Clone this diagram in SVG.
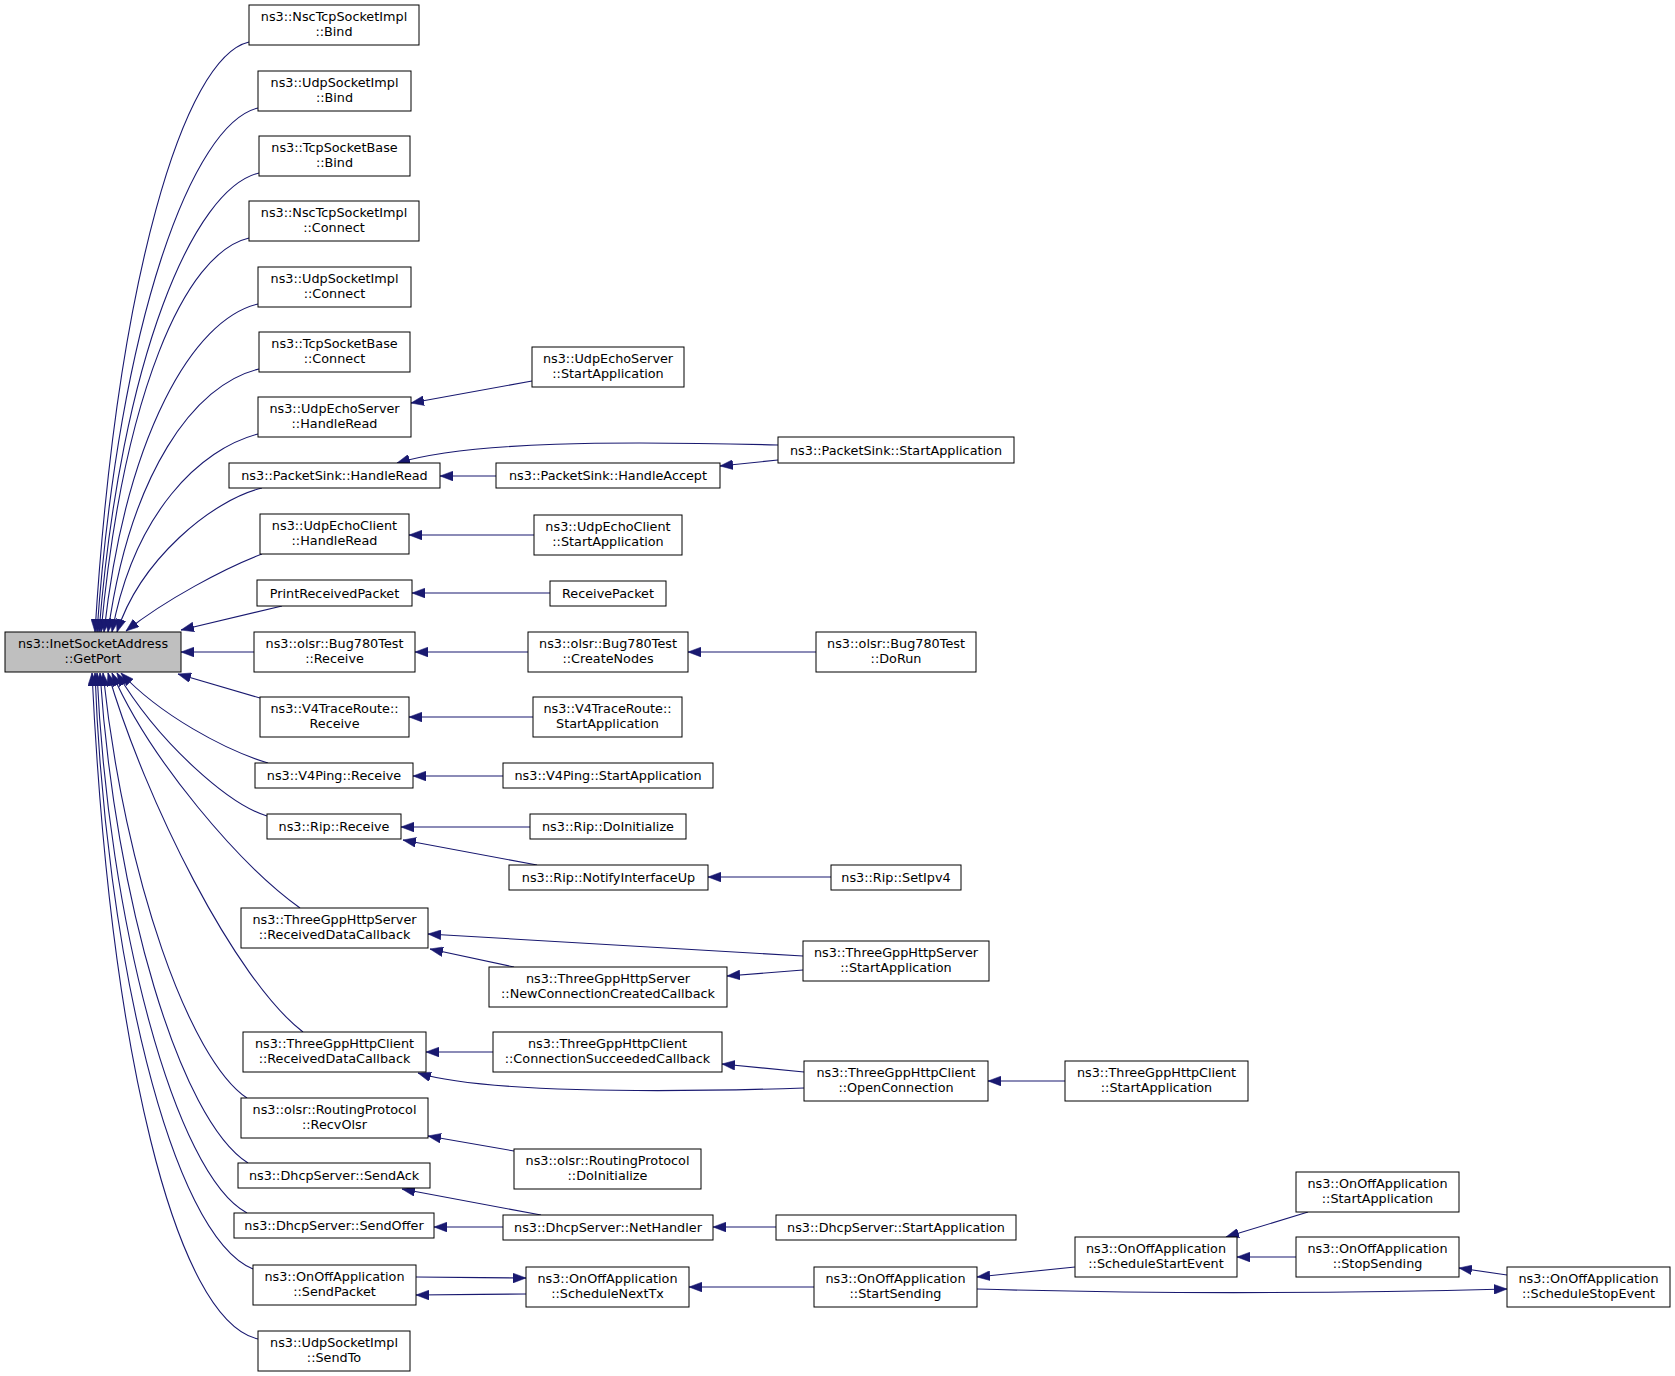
<svg xmlns="http://www.w3.org/2000/svg" width="1675" height="1376" viewBox="0 0 1675 1376">
<style>
.n rect{fill:#fff;stroke:#000;stroke-width:1}
.root rect{fill:#bfbfbf;stroke:#000;stroke-width:1}
text{font-family:"DejaVu Sans","Liberation Sans",sans-serif;font-size:12.8px;text-anchor:middle;fill:#000}
#edges path{fill:none;stroke:#191970;stroke-width:1.1;marker-end:url(#ah)}
</style>
<defs>
<marker id="ah" markerUnits="userSpaceOnUse" markerWidth="13" markerHeight="10" viewBox="0 0 12 9" refX="12" refY="4.5" orient="auto">
<path d="M0,0 L12,4.5 L0,9 z" fill="#191970" stroke="#191970" stroke-width="0.5"/>
</marker>
</defs>
<rect width="1675" height="1376" fill="#fff"/>
<g id="edges">
<path d="M249,42 C184,57 117,278 95,632"/>
<path d="M258,108 C193,123 119,319 97,632"/>
<path d="M259,173 C194,188 121,357 99,632"/>
<path d="M249,238 C184,253 123,396 101,632"/>
<path d="M258,304 C193,319 126,435 104,632"/>
<path d="M259,369 C194,384 130,474 108,632"/>
<path d="M258,434 C200,449 134,513 112,632"/>
<path d="M262,488 C212,500 140,560 117,632"/>
<path d="M262,554 C225,568 165,600 126,631"/>
<path d="M282,606 L181,630"/>
<path d="M254,652 L181,652"/>
<path d="M260,698 L178,674"/>
<path d="M268,763 C225,750 160,715 121,673"/>
<path d="M267,816 C230,805 160,745 117,673"/>
<path d="M300,908 C240,865 150,760 112,673"/>
<path d="M303,1032 C235,980 145,800 108,673"/>
<path d="M247,1098 C190,1060 125,880 103,673"/>
<path d="M248,1163 C180,1120 115,900 100,673"/>
<path d="M247,1213 C175,1175 108,920 97,673"/>
<path d="M253,1269 C170,1235 105,950 95,673"/>
<path d="M258,1339 C175,1320 110,1050 92,673"/>
<path d="M532,381 L411,403"/>
<path d="M496,476 L440,476"/>
<path d="M778,445 C620,441 470,441 397,463"/>
<path d="M778,460 L720,466"/>
<path d="M534,535 L409,535"/>
<path d="M550,593 L412,593"/>
<path d="M528,652 L415,652"/>
<path d="M816,652 L688,652"/>
<path d="M533,717 L409,717"/>
<path d="M503,776 L413,776"/>
<path d="M530,827 L401,827"/>
<path d="M537,865 L403,840"/>
<path d="M831,877 L708,877"/>
<path d="M803,956 L428,934"/>
<path d="M514,967 L430,949"/>
<path d="M803,970 L727,976"/>
<path d="M493,1052 L426,1052"/>
<path d="M804,1072 L722,1064"/>
<path d="M804,1088 C650,1093 480,1092 418,1073"/>
<path d="M1065,1081 L988,1081"/>
<path d="M514,1151 L428,1136"/>
<path d="M541,1215 L402,1189"/>
<path d="M503,1227 L434,1227"/>
<path d="M776,1227 L713,1227"/>
<path d="M416,1277 C450,1277 490,1278 526,1278"/>
<path d="M526,1294 C490,1294 450,1295 416,1295"/>
<path d="M814,1287 L689,1287"/>
<path d="M1075,1267 L977,1277"/>
<path d="M977,1289 C1150,1294 1350,1293 1507,1289"/>
<path d="M1308,1212 L1226,1237"/>
<path d="M1296,1257 L1237,1257"/>
<path d="M1507,1275 L1459,1268"/>
</g>
<g id="getport" class="root"><rect x="5" y="632" width="176" height="40"/><text x="93" y="648">ns3::InetSocketAddress</text><text x="93" y="663">::GetPort</text></g>
<g id="n1" class="n"><rect x="249" y="5" width="170" height="40"/><text x="334" y="21">ns3::NscTcpSocketImpl</text><text x="334" y="36">::Bind</text></g>
<g id="n2" class="n"><rect x="258" y="71" width="153" height="40"/><text x="334.5" y="87">ns3::UdpSocketImpl</text><text x="334.5" y="102">::Bind</text></g>
<g id="n3" class="n"><rect x="259" y="136" width="151" height="40"/><text x="334.5" y="152">ns3::TcpSocketBase</text><text x="334.5" y="167">::Bind</text></g>
<g id="n4" class="n"><rect x="249" y="201" width="170" height="40"/><text x="334" y="217">ns3::NscTcpSocketImpl</text><text x="334" y="232">::Connect</text></g>
<g id="n5" class="n"><rect x="258" y="267" width="153" height="40"/><text x="334.5" y="283">ns3::UdpSocketImpl</text><text x="334.5" y="298">::Connect</text></g>
<g id="n6" class="n"><rect x="259" y="332" width="151" height="40"/><text x="334.5" y="348">ns3::TcpSocketBase</text><text x="334.5" y="363">::Connect</text></g>
<g id="n7" class="n"><rect x="258" y="397" width="153" height="40"/><text x="334.5" y="413">ns3::UdpEchoServer</text><text x="334.5" y="428">::HandleRead</text></g>
<g id="n8" class="n"><rect x="229" y="463" width="211" height="25"/><text x="334.5" y="480">ns3::PacketSink::HandleRead</text></g>
<g id="n9" class="n"><rect x="260" y="514" width="149" height="40"/><text x="334.5" y="530">ns3::UdpEchoClient</text><text x="334.5" y="545">::HandleRead</text></g>
<g id="n10" class="n"><rect x="257" y="580" width="155" height="26"/><text x="334.5" y="597.5">PrintReceivedPacket</text></g>
<g id="n11" class="n"><rect x="254" y="632" width="161" height="40"/><text x="334.5" y="648">ns3::olsr::Bug780Test</text><text x="334.5" y="663">::Receive</text></g>
<g id="n12" class="n"><rect x="260" y="697" width="149" height="40"/><text x="334.5" y="713">ns3::V4TraceRoute::</text><text x="334.5" y="728">Receive</text></g>
<g id="n13" class="n"><rect x="255" y="763" width="158" height="25"/><text x="334" y="780">ns3::V4Ping::Receive</text></g>
<g id="n14" class="n"><rect x="267" y="814" width="134" height="25"/><text x="334" y="831">ns3::Rip::Receive</text></g>
<g id="n15" class="n"><rect x="241" y="908" width="187" height="40"/><text x="334.5" y="924">ns3::ThreeGppHttpServer</text><text x="334.5" y="939">::ReceivedDataCallback</text></g>
<g id="n16" class="n"><rect x="243" y="1032" width="183" height="40"/><text x="334.5" y="1048">ns3::ThreeGppHttpClient</text><text x="334.5" y="1063">::ReceivedDataCallback</text></g>
<g id="n17" class="n"><rect x="241" y="1098" width="187" height="40"/><text x="334.5" y="1114">ns3::olsr::RoutingProtocol</text><text x="334.5" y="1129">::RecvOlsr</text></g>
<g id="n18" class="n"><rect x="238" y="1163" width="192" height="25"/><text x="334" y="1180">ns3::DhcpServer::SendAck</text></g>
<g id="n19" class="n"><rect x="234" y="1213" width="200" height="25"/><text x="334" y="1230">ns3::DhcpServer::SendOffer</text></g>
<g id="n20" class="n"><rect x="253" y="1265" width="163" height="40"/><text x="334.5" y="1281">ns3::OnOffApplication</text><text x="334.5" y="1296">::SendPacket</text></g>
<g id="n21" class="n"><rect x="258" y="1331" width="152" height="40"/><text x="334" y="1347">ns3::UdpSocketImpl</text><text x="334" y="1362">::SendTo</text></g>
<g id="m1" class="n"><rect x="532" y="347" width="152" height="40"/><text x="608" y="363">ns3::UdpEchoServer</text><text x="608" y="378">::StartApplication</text></g>
<g id="m2" class="n"><rect x="496" y="463" width="224" height="25"/><text x="608" y="480">ns3::PacketSink::HandleAccept</text></g>
<g id="m3" class="n"><rect x="778" y="437" width="236" height="26"/><text x="896" y="454.5">ns3::PacketSink::StartApplication</text></g>
<g id="m4" class="n"><rect x="534" y="515" width="148" height="40"/><text x="608" y="531">ns3::UdpEchoClient</text><text x="608" y="546">::StartApplication</text></g>
<g id="m5" class="n"><rect x="550" y="581" width="116" height="25"/><text x="608" y="598">ReceivePacket</text></g>
<g id="m6" class="n"><rect x="528" y="632" width="160" height="40"/><text x="608" y="648">ns3::olsr::Bug780Test</text><text x="608" y="663">::CreateNodes</text></g>
<g id="m7" class="n"><rect x="816" y="632" width="160" height="40"/><text x="896" y="648">ns3::olsr::Bug780Test</text><text x="896" y="663">::DoRun</text></g>
<g id="m8" class="n"><rect x="533" y="697" width="149" height="40"/><text x="607.5" y="713">ns3::V4TraceRoute::</text><text x="607.5" y="728">StartApplication</text></g>
<g id="m9" class="n"><rect x="503" y="763" width="210" height="25"/><text x="608" y="780">ns3::V4Ping::StartApplication</text></g>
<g id="m10" class="n"><rect x="530" y="814" width="156" height="25"/><text x="608" y="831">ns3::Rip::DoInitialize</text></g>
<g id="m11" class="n"><rect x="509" y="865" width="199" height="25"/><text x="608.5" y="882">ns3::Rip::NotifyInterfaceUp</text></g>
<g id="m12" class="n"><rect x="831" y="865" width="130" height="25"/><text x="896" y="882">ns3::Rip::SetIpv4</text></g>
<g id="m13" class="n"><rect x="803" y="941" width="186" height="40"/><text x="896" y="957">ns3::ThreeGppHttpServer</text><text x="896" y="972">::StartApplication</text></g>
<g id="m14" class="n"><rect x="489" y="967" width="238" height="40"/><text x="608" y="983">ns3::ThreeGppHttpServer</text><text x="608" y="998">::NewConnectionCreatedCallback</text></g>
<g id="m15" class="n"><rect x="493" y="1032" width="229" height="40"/><text x="607.5" y="1048">ns3::ThreeGppHttpClient</text><text x="607.5" y="1063">::ConnectionSucceededCallback</text></g>
<g id="m16" class="n"><rect x="804" y="1061" width="184" height="40"/><text x="896" y="1077">ns3::ThreeGppHttpClient</text><text x="896" y="1092">::OpenConnection</text></g>
<g id="m17" class="n"><rect x="1065" y="1061" width="183" height="40"/><text x="1156.5" y="1077">ns3::ThreeGppHttpClient</text><text x="1156.5" y="1092">::StartApplication</text></g>
<g id="m18" class="n"><rect x="514" y="1149" width="187" height="40"/><text x="607.5" y="1165">ns3::olsr::RoutingProtocol</text><text x="607.5" y="1180">::DoInitialize</text></g>
<g id="m19" class="n"><rect x="503" y="1215" width="210" height="25"/><text x="608" y="1232">ns3::DhcpServer::NetHandler</text></g>
<g id="m20" class="n"><rect x="776" y="1215" width="240" height="25"/><text x="896" y="1232">ns3::DhcpServer::StartApplication</text></g>
<g id="m21" class="n"><rect x="526" y="1267" width="163" height="40"/><text x="607.5" y="1283">ns3::OnOffApplication</text><text x="607.5" y="1298">::ScheduleNextTx</text></g>
<g id="m22" class="n"><rect x="814" y="1267" width="163" height="40"/><text x="895.5" y="1283">ns3::OnOffApplication</text><text x="895.5" y="1298">::StartSending</text></g>
<g id="m23" class="n"><rect x="1075" y="1237" width="162" height="40"/><text x="1156" y="1253">ns3::OnOffApplication</text><text x="1156" y="1268">::ScheduleStartEvent</text></g>
<g id="m24" class="n"><rect x="1296" y="1172" width="163" height="40"/><text x="1377.5" y="1188">ns3::OnOffApplication</text><text x="1377.5" y="1203">::StartApplication</text></g>
<g id="m25" class="n"><rect x="1296" y="1237" width="163" height="40"/><text x="1377.5" y="1253">ns3::OnOffApplication</text><text x="1377.5" y="1268">::StopSending</text></g>
<g id="m26" class="n"><rect x="1507" y="1267" width="163" height="40"/><text x="1588.5" y="1283">ns3::OnOffApplication</text><text x="1588.5" y="1298">::ScheduleStopEvent</text></g>
</svg>
